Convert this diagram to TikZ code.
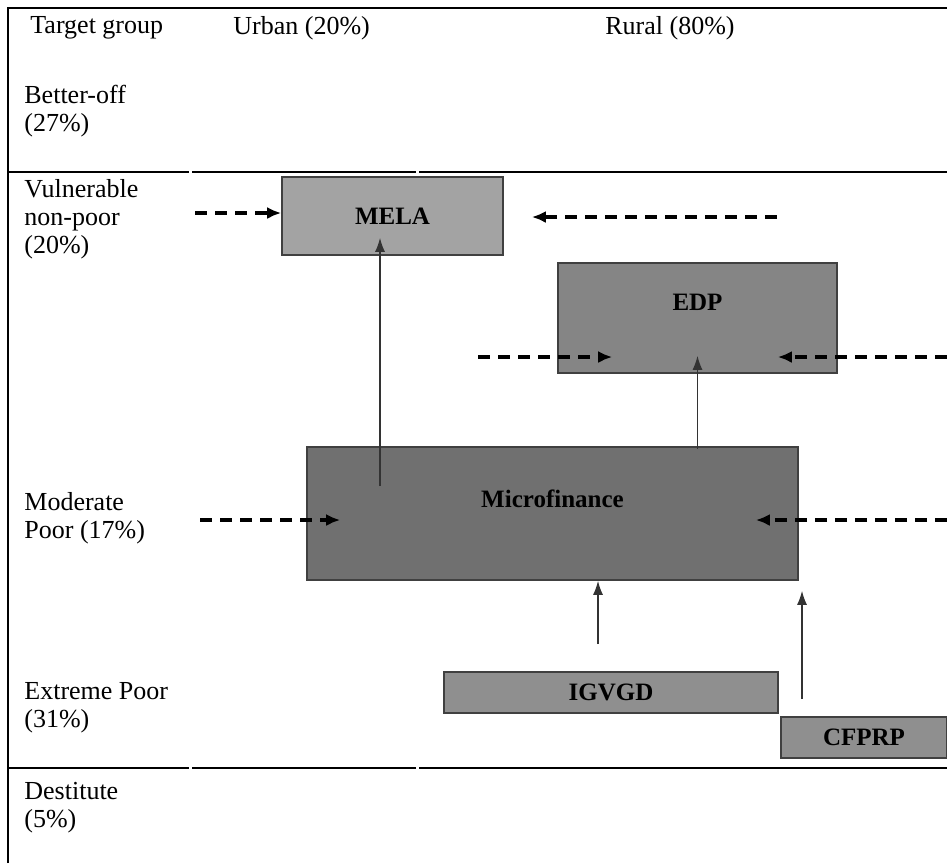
\documentclass[tikz,border=0pt]{standalone}
\usepackage{fontspec}
\setmainfont{Liberation Serif}
\usetikzlibrary{arrows.meta,positioning,calc}

\begin{document}
\begin{tikzpicture}[x=0.5pt,y=-0.5pt,
		prog/.style={rectangle,draw=black!75,line width=0.8pt,inner sep=0pt},
		progtext/.style={font=\fontsize{12.5}{14}\selectfont\bfseries,inner sep=1pt},
		grouptext/.style={font=\fontsize{13}{14}\selectfont,align=left,anchor=west,inner sep=0pt},
		dasharrow/.style={line width=1.6pt,dash pattern=on 6pt off 4pt,-{Latex[length=7pt,width=6pt]}},
		uparrow/.style={line width=0.7pt,black!80,-{Latex[length=7pt,width=5pt]}},
		rowline/.style={line width=1pt}]
		\useasboundingbox (0,0) rectangle (947,863);

		% frame and row lines
		\draw[rowline] (8,863) -- (8,8) -- (947,8);
		\draw[rowline] (8,172) -- (189,172);
		\draw[rowline] (192,172) -- (416,172);
		\draw[rowline] (419,172) -- (947,172);
		\draw[rowline] (8,768) -- (189,768);
		\draw[rowline] (192,768) -- (416,768);
		\draw[rowline] (419,768) -- (947,768);

		% header and target groups
		\node (head) [grouptext] at (30,28) {Target group};
		\node (urban) [grouptext] at (233,28) {Urban (20\%)};
		\node (rural) [grouptext,anchor=center] at (670,28) {Rural (80\%)};
		\node (better) [grouptext] at (24,111) {Better-off\\(27\%)};
		\node (vulner) [grouptext] at (24,219) {Vulnerable\\non-poor\\(20\%)};
		\node (moder) [grouptext] at (24,518) {Moderate\\Poor (17\%)};
		\node (extreme) [grouptext] at (24,708) {Extreme Poor\\(31\%)};
		\node (destit) [grouptext] at (24,808) {Destitute\\(5\%)};

		% programme boxes
		\node (mela) [prog,fill=black!36,minimum width=110.5pt,minimum height=39pt] at (392.5,216) {};
		\node (edp) [prog,fill=black!48,minimum width=139.5pt,minimum height=55pt] at (697.5,318) {};
		\node (mf) [prog,fill=black!56,minimum width=245.5pt,minimum height=66.5pt] at (552.5,513.5) {};
		\node (igvgd) [prog,fill=black!44,minimum width=167pt,minimum height=20.5pt] at (611,692.5) {};
		\node (cfprp) [prog,fill=black!44,minimum width=83pt,minimum height=20.5pt] at (864,737.5) {};

		\node (melatext) [progtext] at (mela.center) {MELA};
		\node (edptext) [progtext] at ($(edp.center)+(0,-16)$) {EDP};
		\node (mftext) [progtext] at ($(mf.center)+(0,-15)$) {Microfinance};
		\node (igvgdtext) [progtext] at (igvgd.center) {IGVGD};
		\node (cfprptext) [progtext] at (cfprp.center) {CFPRP};

		% dashed arrows
		\coordinate (melaL) at (195,213);
		\draw[dasharrow] (melaL) to (melaL -| mela.west);
		\coordinate (melaR) at (777,217);
		\draw[dasharrow] (melaR) to ($(melaR -| mela.east)+(28,0)$);
		\coordinate (edpL) at (478,357);
		\draw[dasharrow] (edpL) to ($(edpL -| edp.west)+(55,0)$);
		\coordinate (edpR) at (947,357);
		\draw[dasharrow] (edpR) to ($(edpR -| edp.east)+(-60,0)$);
		\coordinate (mfL) at (200,520);
		\draw[dasharrow] (mfL) to ($(mfL -| mf.west)+(34,0)$);
		\coordinate (mfR) at (947,520);
		\draw[dasharrow] (mfR) to ($(mfR -| mf.east)+(-43,0)$);

		% upward arrows
		\draw[uparrow] ($(mf.north -| mela.south)+(-12.5,40)$) to ($(mela.south)+(-12.5,-18)$);
		\draw[uparrow] ($(mf.north -| edp.south)+(0,3)$) to ($(edp.south)+(0,-18)$);
		\coordinate (igTail) at ($(igvgd.north)+(-13,-27)$);
		\draw[uparrow] (igTail) to (igTail |- mf.south);
		\coordinate (cfTail) at ($(cfprp.north)+(-62,-17)$);
		\draw[uparrow] (cfTail) to ($(cfTail |- mf.south)+(0,10)$);

	\end{tikzpicture}
\end{document}
